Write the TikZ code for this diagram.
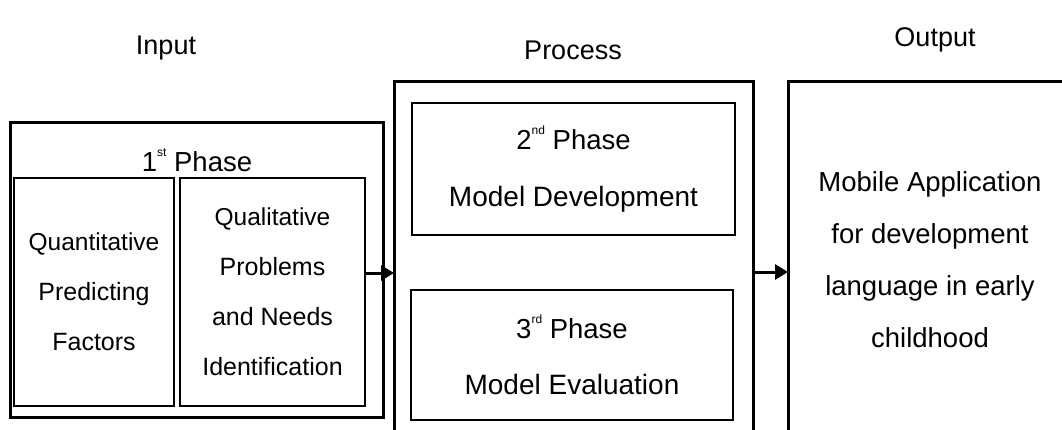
\documentclass[tikz,border=0pt]{standalone}
\usepackage{fontspec}
\setmainfont{Liberation Sans}
\usetikzlibrary{arrows.meta}
\newcommand{\sps}[1]{\raisebox{0.55em}{\fontsize{12}{12}\selectfont #1}}
\tikzset{
  bigbox/.style={draw, line width=3pt, inner sep=0pt, outer sep=0pt},
  subbox/.style={draw, line width=2pt, inner sep=0pt, outer sep=0pt, align=center},
  header/.style={font=\fontsize{27}{30}\selectfont},
  flowarrow/.style={line width=3pt, -{Triangle[length=13pt,width=15pt]}},
}
\begin{document}
\begin{tikzpicture}[x=1pt,y=-1pt]
\useasboundingbox (0,0) rectangle (1062,430);
\clip (0,0) rectangle (1062,430);
\fill[white] (0,0) rectangle (1062,430);
% headers
\node[header] (hin) at (166,48) {Input};
\node[header] (hpr) at (573,50) {Process};
\node[header] (hout) at (935,40) {Output};
% input
\node[bigbox, minimum width=373pt, minimum height=294pt] (inbox) at (196.5,270) {};
\node[font=\fontsize{27.5}{30}\selectfont] (p1) at (197,160) {1\sps{st}\ Phase};
\node[subbox, minimum width=160pt, minimum height=228pt, font=\fontsize{25}{50}\selectfont] (quan) at (94,292)
  {{\fontsize{24.5}{50}\selectfont Quantitative}\\Predicting\\Factors};
\node[subbox, minimum width=185pt, minimum height=228pt, font=\fontsize{25}{50}\selectfont] (qual) at (272.5,292)
  {{\fontsize{24.5}{50}\selectfont Qualitative}\\Problems\\and Needs\\Identification};
% process
\node[bigbox, minimum width=359pt, minimum height=370pt] (proc) at (573.5,267) {};
\node[subbox, minimum width=323pt, minimum height=132pt, font=\fontsize{28}{57}\selectfont] (dev) at (573.5,169)
  {{\fontsize{27.5}{57}\selectfont 2\sps{nd}\ Phase}\\Model Development};
\node[subbox, minimum width=322pt, minimum height=130pt, font=\fontsize{28}{56}\selectfont] (eval) at (572,355)
  {{\fontsize{27.5}{56}\selectfont 3\sps{rd}\ Phase}\\Model Evaluation};
% output
\node[bigbox, minimum width=300pt, minimum height=370pt] (outbox) at (938,267) {};
\node[align=center, font=\fontsize{27.5}{52}\selectfont] (outtxt) at (930,260)
  {Mobile Application\\for development\\language in early\\childhood};
% arrows
\coordinate (a1) at (365,273);
\coordinate (a2) at (753,272);
\draw[flowarrow] (a1) -- (a1 -| proc.west);
\draw[flowarrow] (a2) -- (a2 -| outbox.west);
\end{tikzpicture}
\end{document}
